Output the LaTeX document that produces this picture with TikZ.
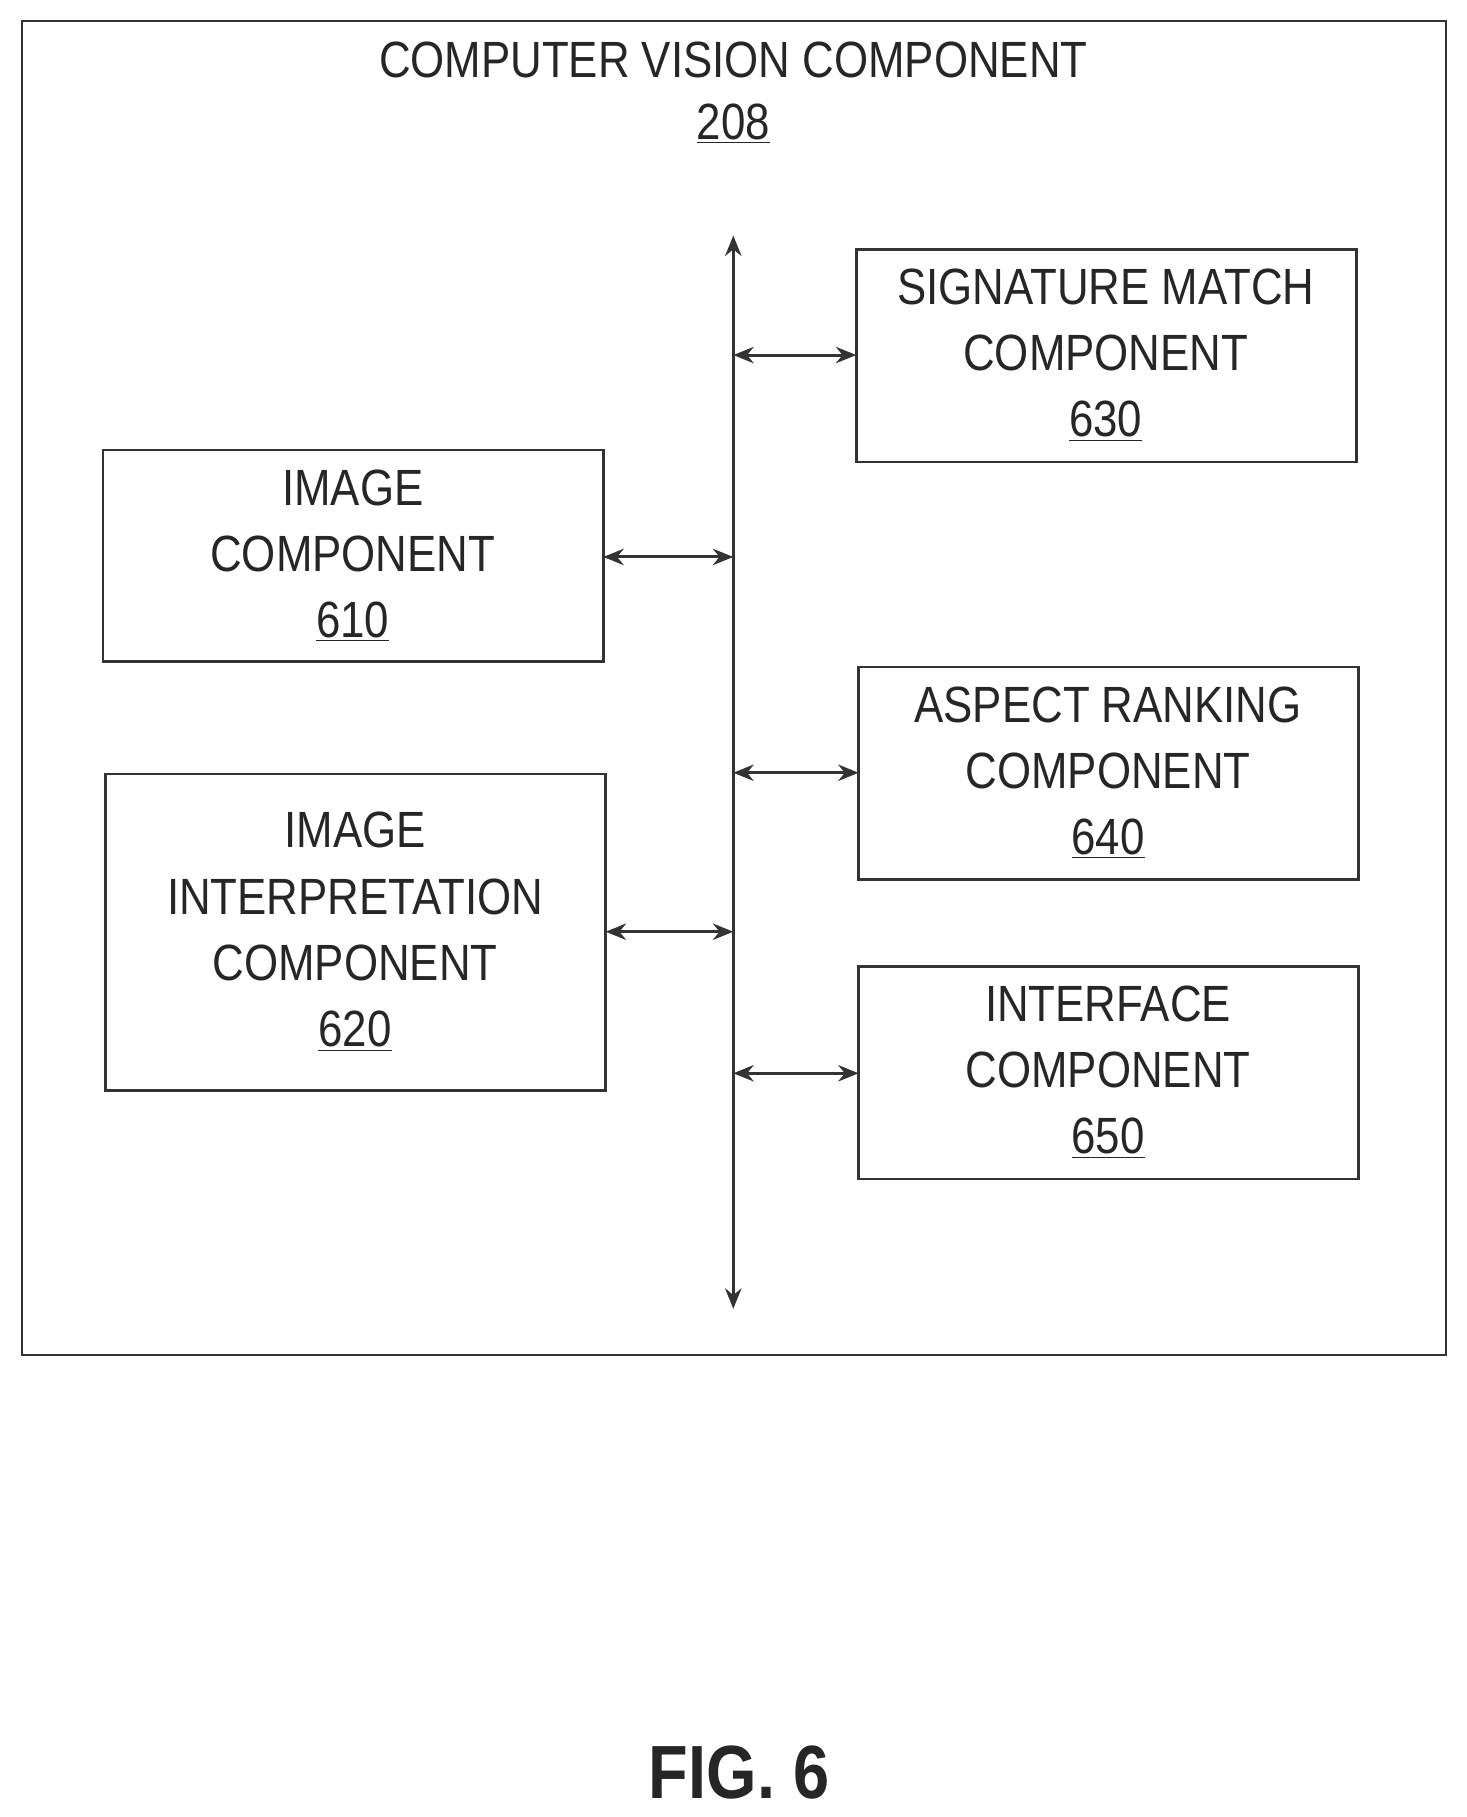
\documentclass[tikz,border=0pt]{standalone}
\usepackage{fontspec}
\setmainfont{Liberation Sans}[FakeStretch=0.86]
\usetikzlibrary{arrows.meta}
\begin{document}
\begin{tikzpicture}[x=0.02cm,y=-0.02cm,
 lbl/.style={font=\fontsize{25}{32.5}\selectfont,align=center,text=black!85},
 box/.style={draw=black!80,line width=1.2pt},
 con/.style={draw=black!80,line width=1.5pt,{Stealth[length=10pt,width=8pt]}-{Stealth[length=10pt,width=8pt]}}]
\useasboundingbox (0,0) rectangle (1264,1566);
\draw[box] (19,18) rectangle (1246,1168);
\node[lbl] (title) at (632,80) {COMPUTER VISION COMPONENT\\[-2pt]\underline{208}};
\coordinate (bt) at (632,203);
\coordinate (bb) at (632,1128);
\draw[con] (bt) -- (bb);
\draw[box] (738,215) rectangle (1169,398); \node[lbl] (n630) at (953,306) {SIGNATURE MATCH\\COMPONENT\\\underline{630}};
\draw[box] (89,388) rectangle (520,570); \node[lbl] (n610) at (304,479) {IMAGE\\COMPONENT\\\underline{610}};
\draw[box] (740,575) rectangle (1171,758); \node[lbl] (n640) at (955,666) {ASPECT RANKING\\COMPONENT\\\underline{640}};
\draw[box] (91,667) rectangle (522,940); \node[lbl] (n620) at (306,803) {IMAGE\\INTERPRETATION\\COMPONENT\\\underline{620}};
\draw[box] (740,833) rectangle (1171,1016); \node[lbl] (n650) at (955,924) {INTERFACE\\COMPONENT\\\underline{650}};
\coordinate (a1) at (632,306); \coordinate (e1) at (738,306);
\coordinate (a2) at (632,480); \coordinate (e2) at (520,480);
\coordinate (a3) at (632,666); \coordinate (e3) at (740,666);
\coordinate (a4) at (632,803); \coordinate (e4) at (522,803);
\coordinate (a5) at (632,925); \coordinate (e5) at (740,925);
\draw[con] (a1)--(e1); \draw[con] (a2)--(e2); \draw[con] (a3)--(e3); \draw[con] (a4)--(e4); \draw[con] (a5)--(e5);
\node[font=\bfseries\fontsize{37}{44}\selectfont,text=black!85] (fig) at (637,1528) {FIG. 6};
\end{tikzpicture}
\end{document}
